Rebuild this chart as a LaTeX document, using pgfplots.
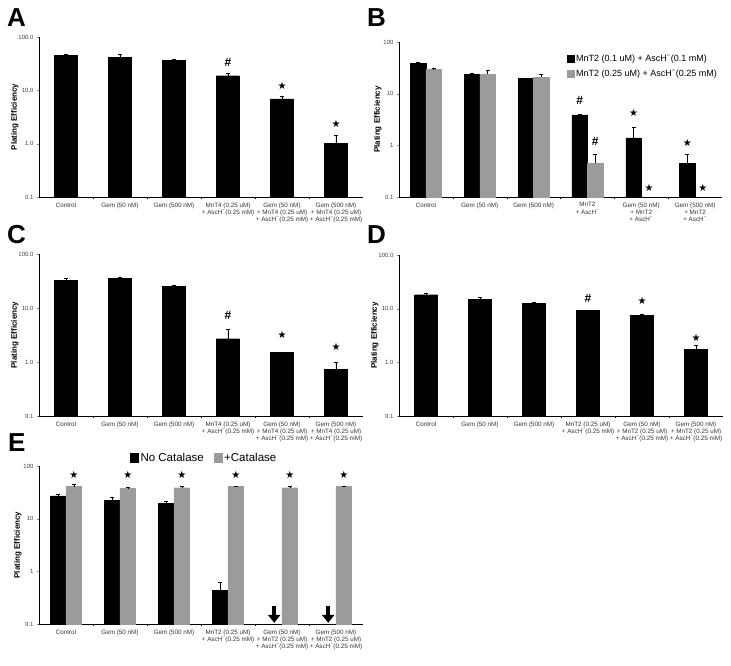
\documentclass[border=0pt]{standalone}
\usepackage{fontspec}
\setmainfont{Liberation Sans}
\newfontfamily\dejavu{DejaVu Sans}
\usepackage{pgfplots}
\pgfplotsset{compat=1.18}
\usetikzlibrary{arrows.meta}
\definecolor{bargray}{RGB}{155,155,155}
\newcommand{\asch}{AscH\textsuperscript{−}}
\newcommand{\st}{{\dejavu\fontsize{10}{10}\selectfont ★}}
\tikzset{nd/.style={font=\fontsize{12}{12}\selectfont\bfseries},
 letter/.style={anchor=north west, inner sep=0pt, font=\fontsize{26}{26}\selectfont\bfseries}}
\begin{document}
\begin{tikzpicture}
\path[use as bounding box] (0,0) rectangle (731pt,666pt);
\node[letter] at (7pt,658pt) {A};
\node[letter] at (367pt,658pt) {B};
\node[letter] at (7pt,441pt) {C};
\node[letter] at (367pt,441pt) {D};
\node[letter] at (8pt,233pt) {E};

% ---------- A ----------
\begin{axis}[scale only axis, anchor=south west, clip=false,
  ymode=log, log origin=infty, ymin=0.1, ymax=100, xmin=-0.5, xmax=5.5,
  axis x line*=bottom, axis y line*=left, axis line style={-},
  ytick={0.1,1,10,100}, yminorticks=false, xtick={0,...,5},
  minor xtick={0.5,1.5,2.5,3.5,4.5}, minor tick length=2pt,
  tick align=outside, major tick length=2pt, xtick style={draw=none}, minor x tick style={draw=black},
  yticklabel style={font=\fontsize{6}{6}\selectfont, text=black!75},
  xticklabel style={align=center, font=\fontsize{6.3}{7.2}\selectfont, text=black!80},
  ylabel={Plating Efficiency}, ylabel style={font=\fontsize{8}{8}\selectfont\bfseries}, ylabel shift=-7pt,
  ybar,
  at={(39pt,469pt)}, width=324pt, height=160pt, bar width=23pt,
 yticklabels={0.1,1.0,10.0,100.0},
 xticklabels={Control, Gem (50 nM), Gem (500 nM), {MnT4 (0.25 uM)\\+ \asch(0.25 mM)}, {Gem (50 nM)\\+ MnT4 (0.25 uM)\\+ \asch(0.25 mM)}, {Gem (500 nM)\\+ MnT4 (0.25 uM)\\+ \asch(0.25 mM)}}]
\addplot[fill=black, draw=black, error bars/.cd, y dir=plus, y explicit] coordinates {
(0,44.6) +- (0,2.4) (1,40.9) +- (0,6.1) (2,37) +- (0,1.5) (3,18.8) +- (0,2.2) (4,6.9) +- (0,1.0) (5,1.0) +- (0,0.47)};
\node[nd] at (axis cs:3,33) {\#};
\node at (axis cs:4,12) {\st};
\node at (axis cs:5,2.33) {\st};
\end{axis}

% ---------- B ----------
\begin{axis}[scale only axis, anchor=south west, clip=false,
  ymode=log, log origin=infty, ymin=0.1, ymax=100, xmin=-0.5, xmax=5.5,
  axis x line*=bottom, axis y line*=left, axis line style={-},
  ytick={0.1,1,10,100}, yminorticks=false, xtick={0,...,5},
  minor xtick={0.5,1.5,2.5,3.5,4.5}, minor tick length=2pt,
  tick align=outside, major tick length=2pt, xtick style={draw=none}, minor x tick style={draw=black},
  yticklabel style={font=\fontsize{6}{6}\selectfont, text=black!75},
  xticklabel style={align=center, font=\fontsize{6.3}{7.2}\selectfont, text=black!80},
  ylabel={Plating Efficiency}, ylabel style={font=\fontsize{8}{8}\selectfont\bfseries}, ylabel shift=-5pt,
  ybar,
  at={(399pt,469pt)}, width=323pt, height=155pt, bar width=15.5pt,
 yticklabels={0.1,1,10,100},
 xticklabels={Control, Gem (50 nM), Gem (500 nM), {MnT2\\+ \asch}, {Gem (50 nM)\\+ MnT2\\+ \asch}, {Gem (500 nM)\\+ MnT2\\+ \asch}},
 legend image code/.code={\fill[#1] (0pt,-3pt) rectangle (6.5pt,4pt);},
 legend style={at={(1,0.945)}, anchor=north east, draw=none, fill=none, font=\fontsize{9}{9}\selectfont, row sep=3pt, cells={anchor=west}}]
\addplot[fill=black, draw=black, bar shift=-7.75pt, error bars/.cd, y dir=plus, y explicit] coordinates {
(0,38.7) +- (0,2.3) (1,24) +- (0,0.7) (2,19.8) +- (0,0.4) (3,3.87) +- (0,0.1) (4,1.39) +- (0,0.88) (5,0.45) +- (0,0.22)};
\addplot[fill=bargray, draw=bargray, bar shift=7.75pt, error bars/.cd, y dir=plus, y explicit, error bar style={black}] coordinates {
(0,29.1) +- (0,1.7) (1,24) +- (0,3.9) (2,20.8) +- (0,3.2) (3,0.45) +- (0,0.23)};
\legend{MnT2 (0.1 uM) + \asch(0.1 mM), MnT2 (0.25 uM) + \asch(0.25 mM)}
\node[nd] at (axis cs:2.856,7.55) {\#};
\node[nd] at (axis cs:3.144,1.18) {\#};
\node at (axis cs:3.856,4.18) {\st};
\node at (axis cs:4.144,0.152) {\st};
\node at (axis cs:4.856,1.13) {\st};
\node at (axis cs:5.144,0.152) {\st};
\end{axis}

% ---------- C ----------
\begin{axis}[scale only axis, anchor=south west, clip=false,
  ymode=log, log origin=infty, ymin=0.1, ymax=100, xmin=-0.5, xmax=5.5,
  axis x line*=bottom, axis y line*=left, axis line style={-},
  ytick={0.1,1,10,100}, yminorticks=false, xtick={0,...,5},
  minor xtick={0.5,1.5,2.5,3.5,4.5}, minor tick length=2pt,
  tick align=outside, major tick length=2pt, xtick style={draw=none}, minor x tick style={draw=black},
  yticklabel style={font=\fontsize{6}{6}\selectfont, text=black!75},
  xticklabel style={align=center, font=\fontsize{6.3}{7.2}\selectfont, text=black!80},
  ylabel={Plating Efficiency}, ylabel style={font=\fontsize{8}{8}\selectfont\bfseries}, ylabel shift=-7pt,
  ybar,
  at={(39pt,250pt)}, width=324pt, height=162pt, bar width=23pt,
 yticklabels={0.1,1.0,10.0,100.0},
 xticklabels={Control, Gem (50 nM), Gem (500 nM), {MnT4 (0.25 uM)\\+ \asch(0.25 mM)}, {Gem (50 nM)\\+ MnT4 (0.25 uM)\\+ \asch(0.25 mM)}, {Gem (500 nM)\\+ MnT4 (0.25 uM)\\+ \asch(0.25 mM)}}]
\addplot[fill=black, draw=black, error bars/.cd, y dir=plus, y explicit] coordinates {
(0,33) +- (0,2) (1,34.9) +- (0,2.1) (2,24.8) +- (0,2.2) (3,2.7) +- (0,1.4) (4,1.51) +- (0,0.02) (5,0.74) +- (0,0.27)};
\node[nd] at (axis cs:3,7.4) {\#};
\node at (axis cs:4,3.16) {\st};
\node at (axis cs:5,1.87) {\st};
\end{axis}

% ---------- D ----------
\begin{axis}[scale only axis, anchor=south west, clip=false,
  ymode=log, log origin=infty, ymin=0.1, ymax=100, xmin=-0.5, xmax=5.5,
  axis x line*=bottom, axis y line*=left, axis line style={-},
  ytick={0.1,1,10,100}, yminorticks=false, xtick={0,...,5},
  minor xtick={0.5,1.5,2.5,3.5,4.5}, minor tick length=2pt,
  tick align=outside, major tick length=2pt, xtick style={draw=none}, minor x tick style={draw=black},
  yticklabel style={font=\fontsize{6}{6}\selectfont, text=black!75},
  xticklabel style={align=center, font=\fontsize{6.3}{7.2}\selectfont, text=black!80},
  ylabel={Plating Efficiency}, ylabel style={font=\fontsize{8}{8}\selectfont\bfseries}, ylabel shift=-7pt,
  ybar,
  at={(399pt,250pt)}, width=324pt, height=161pt, bar width=23pt,
 yticklabels={0.1,1.0,10.0,100.0},
 xticklabels={Control, Gem (50 nM), Gem (500 nM), {MnT2 (0.25 uM)\\+ \asch(0.25 mM)}, {Gem (50 nM)\\+ MnT2 (0.25 uM)\\+ \asch(0.25 mM)}, {Gem (500 nM)\\+ MnT2 (0.25 uM)\\+ \asch(0.25 mM)}}]
\addplot[fill=black, draw=black, error bars/.cd, y dir=plus, y explicit] coordinates {
(0,18.2) +- (0,1.5) (1,15.1) +- (0,1.1) (2,12.4) +- (0,0.6) (3,9.2) +- (0,0.1) (4,7.6) +- (0,0.4) (5,1.72) +- (0,0.36)};
\node[nd] at (axis cs:3,15.3) {\#};
\node at (axis cs:4,14.1) {\st};
\node at (axis cs:5,2.88) {\st};
\end{axis}

% ---------- E ----------
\begin{axis}[scale only axis, anchor=south west, clip=false,
  ymode=log, log origin=infty, ymin=0.1, ymax=100, xmin=-0.5, xmax=5.5,
  axis x line*=bottom, axis y line*=left, axis line style={-},
  ytick={0.1,1,10,100}, yminorticks=false, xtick={0,...,5},
  minor xtick={0.5,1.5,2.5,3.5,4.5}, minor tick length=2pt,
  tick align=outside, major tick length=2pt, xtick style={draw=none}, minor x tick style={draw=black},
  yticklabel style={font=\fontsize{6}{6}\selectfont, text=black!75},
  xticklabel style={align=center, font=\fontsize{6.3}{7.2}\selectfont, text=black!80},
  ylabel={Plating Efficiency}, ylabel style={font=\fontsize{8}{8}\selectfont\bfseries}, ylabel shift=-5pt,
  ybar,
  at={(39pt,42pt)}, width=324pt, height=158pt, bar width=15.5pt,
 yticklabels={0.1,1,10,100},
 xticklabels={Control, Gem (50 nM), Gem (500 nM), {MnT2 (0.25 uM)\\+ \asch(0.25 mM)}, {Gem (50 nM)\\+ MnT2 (0.25 uM)\\+ \asch(0.25 mM)}, {Gem (500 nM)\\+ MnT2 (0.25 uM)\\+ \asch(0.25 mM)}},
 legend columns=2,
 legend image code/.code={\fill[#1] (0pt,-4pt) rectangle (8pt,5pt);},
 legend style={at={(0.51,1.05)}, anchor=center, draw=none, fill=none, font=\fontsize{11.5}{11.5}\selectfont, /tikz/every even column/.append style={column sep=8pt}}]
\addplot[fill=black, draw=black, bar shift=-7.75pt, error bars/.cd, y dir=plus, y explicit] coordinates {
(0,27) +- (0,2) (1,22.6) +- (0,3.4) (2,19.6) +- (0,2.1) (3,0.43) +- (0,0.2)};
\addplot[fill=bargray, draw=bargray, bar shift=7.75pt, error bars/.cd, y dir=plus, y explicit, error bar style={black}] coordinates {
(0,40.5) +- (0,4.4) (1,37.7) +- (0,1.3) (2,38.7) +- (0,3) (3,40.5) +- (0,1.4) (4,38.7) +- (0,3) (5,40.5) +- (0,1.4)};
\legend{No Catalase, +Catalase}
\node at (axis cs:0.144,67.5) {\st};
\node at (axis cs:1.144,67.5) {\st};
\node at (axis cs:2.144,67.5) {\st};
\node at (axis cs:3.144,67.5) {\st};
\node at (axis cs:4.144,67.5) {\st};
\node at (axis cs:5.144,67.5) {\st};
\draw[-{Triangle[width=12pt,length=8pt]}, line width=3.5pt] (axis cs:3.856,0.22) -- (axis cs:3.856,0.105);
\draw[-{Triangle[width=12pt,length=8pt]}, line width=3.5pt] (axis cs:4.856,0.22) -- (axis cs:4.856,0.105);
\end{axis}
\end{tikzpicture}
\end{document}
